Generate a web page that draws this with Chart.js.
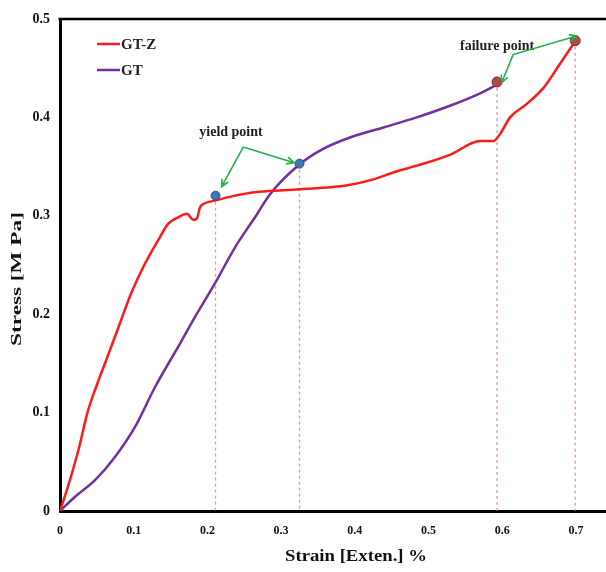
<!DOCTYPE html>
<html>
<head>
<meta charset="utf-8">
<script src="https://cdn.jsdelivr.net/npm/chart.js@4.4.1/dist/chart.umd.min.js"></script>
<style>
  body { margin: 0; background: #fff; }
  #wrap { width: 606px; height: 572px; }
</style>
</head>
<body>
<div id="wrap"><canvas id="stressStrainChart" width="606" height="572"></canvas></div>
<script>
// GT-Z curve (red)
const gtzStrain = [0, 0.0113, 0.025, 0.038, 0.0475, 0.063, 0.079, 0.097, 0.115, 0.133, 0.147, 0.1605, 0.172, 0.181, 0.1855, 0.19, 0.1945, 0.21, 0.2375, 0.2646, 0.303, 0.348, 0.39, 0.425, 0.452, 0.484, 0.529, 0.57, 0.588, 0.597, 0.6106, 0.633, 0.656, 0.678, 0.6995];
const gtzStress = [0, 0.026, 0.062, 0.102, 0.123, 0.154, 0.186, 0.222, 0.251, 0.275, 0.292, 0.2985, 0.302, 0.296, 0.297, 0.3086, 0.312, 0.3154, 0.3205, 0.324, 0.326, 0.328, 0.331, 0.337, 0.344, 0.351, 0.362, 0.376, 0.376, 0.383, 0.400, 0.4135, 0.430, 0.454, 0.478];

// GT curve (purple)
const gtStrain = [0, 0.0204, 0.0475, 0.0746, 0.1018, 0.129, 0.165, 0.183, 0.21, 0.2375, 0.2646, 0.285, 0.3256, 0.357, 0.3935, 0.4387, 0.484, 0.529, 0.57, 0.592];
const gtStress = [0, 0.0145, 0.0314, 0.055, 0.0855, 0.126, 0.173, 0.197, 0.231, 0.268, 0.2985, 0.322, 0.3526, 0.368, 0.3796, 0.3897, 0.400, 0.4118, 0.4245, 0.433];

// marked points
const yieldStrain = [0.211, 0.325];
const yieldStress = [0.3205, 0.353];
const failureStrain = [0.593, 0.699];
const failureStress = [0.436, 0.478];

// tick labels
const xTicks = [0, 0.1, 0.2, 0.3, 0.4, 0.5, 0.6, 0.7];
const yTicks = [0, 0.1, 0.2, 0.3, 0.4, 0.5];

// legend entries
const seriesNames = ['GT-Z', 'GT'];
const seriesColors = ['#ff1a1a', '#7030a0'];

// annotation labels and arrows (data units)
const yieldLabel = { text: 'yield point', x: 0.232, y: 0.3847 };
const yieldArrowApex = { x: 0.2487, y: 0.370 };
const failureLabel = { text: 'failure point', x: 0.593, y: 0.4726 };
const failureArrowApex = { x: 0.615, y: 0.464 };
const yieldArrowTips = [{ x: 0.2194, y: 0.3296 }, { x: 0.3175, y: 0.354 }];
const failureArrowTips = [{ x: 0.5993, y: 0.4354 }, { x: 0.701, y: 0.4828 }];

function toPoints(xs, ys) {
    return xs.map((x, i) => ({ x: x, y: ys[i] }));
}

function dropLine(x, y) {
    return {
        data: [{ x: x, y: y }, { x: x, y: 0 }],
        showLine: true,
        borderColor: 'rgba(214, 130, 130, 0.8)',
        borderWidth: 1.3,
        borderDash: [3, 3],
        pointRadius: 0,
        order: 5
    };
}

/**
 * Draw the extras: top frame line, legend, axis titles, notes and arrows
 */
const extrasPlugin = {
    id: 'extras',
    afterDraw(chart) {
        const ctx = chart.ctx;
        const area = chart.chartArea;
        const xs = chart.scales.x;
        const ys = chart.scales.y;
        ctx.save();

        // top frame line
        ctx.strokeStyle = '#000';
        ctx.lineWidth = 2.5;
        ctx.beginPath();
        ctx.moveTo(area.left - 1.5, area.top);
        ctx.lineTo(area.right, area.top);
        ctx.stroke();

        // legend
        ctx.font = 'bold 15px "Liberation Serif"';
        ctx.textBaseline = 'middle';
        ctx.textAlign = 'left';
        seriesNames.forEach((name, i) => {
            const ly = 44 + i * 26;
            ctx.strokeStyle = seriesColors[i];
            ctx.lineWidth = 2.5;
            ctx.beginPath();
            ctx.moveTo(97, ly);
            ctx.lineTo(120, ly);
            ctx.stroke();
            ctx.fillStyle = '#222';
            ctx.fillText(name, 121, ly + 1);
        });

        // axis titles (stretched like the original)
        ctx.fillStyle = '#111';
        ctx.textAlign = 'center';
        ctx.font = 'bold 16px "Liberation Serif"';
        ctx.save();
        ctx.translate(356, 557);
        ctx.scale(1.17, 1);
        ctx.fillText('Strain [Exten.] %', 0, 0);
        ctx.restore();

        ctx.save();
        ctx.translate(17, (area.top + area.bottom) / 2 + 14);
        ctx.rotate(-Math.PI / 2);
        ctx.scale(1.55, 1);
        ctx.font = 'bold 15px "Liberation Serif"';
        ctx.fillText('Stress [M Pa]', 0, 0);
        ctx.restore();

        // notes
        ctx.font = 'bold 14px "Liberation Serif"';
        ctx.fillStyle = '#222';
        [yieldLabel, failureLabel].forEach(l => {
            ctx.fillText(l.text, xs.getPixelForValue(l.x), ys.getPixelForValue(l.y));
        });

        // arrows
        ctx.strokeStyle = '#22b14c';
        ctx.lineWidth = 1.6;
        const drawArrows = (apex, tips) => {
            const ax = xs.getPixelForValue(apex.x);
            const ay = ys.getPixelForValue(apex.y);
            tips.forEach(t => {
                const tx = xs.getPixelForValue(t.x);
                const ty = ys.getPixelForValue(t.y);
                const ang = Math.atan2(ty - ay, tx - ax);
                ctx.beginPath();
                ctx.moveTo(ax, ay);
                ctx.lineTo(tx, ty);
                ctx.moveTo(tx - 8 * Math.cos(ang - 0.45), ty - 8 * Math.sin(ang - 0.45));
                ctx.lineTo(tx, ty);
                ctx.lineTo(tx - 8 * Math.cos(ang + 0.45), ty - 8 * Math.sin(ang + 0.45));
                ctx.stroke();
            });
        };
        drawArrows(yieldArrowApex, yieldArrowTips);
        drawArrows(failureArrowApex, failureArrowTips);

        ctx.restore();
    }
};

const datasets = [
    {
        label: seriesNames[0],
        data: toPoints(gtzStrain, gtzStress),
        showLine: true,
        borderColor: seriesColors[0],
        borderWidth: 2.5,
        pointRadius: 0,
        cubicInterpolationMode: 'monotone',
        order: 2
    },
    {
        label: seriesNames[1],
        data: toPoints(gtStrain, gtStress),
        showLine: true,
        borderColor: seriesColors[1],
        borderWidth: 2.5,
        pointRadius: 0,
        cubicInterpolationMode: 'monotone',
        order: 2
    },
    {
        label: 'yield',
        data: toPoints(yieldStrain, yieldStress),
        showLine: false,
        pointRadius: 4.5,
        backgroundColor: '#4472b8',
        borderColor: '#2f4f80',
        borderWidth: 1,
        order: 0
    },
    {
        label: 'failure',
        data: toPoints(failureStrain, failureStress),
        showLine: false,
        pointRadius: 5,
        backgroundColor: '#b04848',
        borderColor: '#7a2a2a',
        borderWidth: 1,
        order: 0
    }
];
yieldStrain.forEach((x, i) => datasets.push(dropLine(x, yieldStress[i])));
failureStrain.forEach((x, i) => datasets.push(dropLine(x, failureStress[i])));

const ctx = document.getElementById('stressStrainChart').getContext('2d');
const stressStrainChart = new Chart(ctx, {
    type: 'scatter',
    data: { datasets: datasets },
    options: {
        responsive: false,
        animation: false,
        layout: { autoPadding: false, padding: { top: 19, left: 0, right: 0, bottom: 0 } },
        plugins: {
            legend: { display: false },
            tooltip: { enabled: false }
        },
        scales: {
            x: {
                type: 'linear',
                min: 0,
                max: 0.7408,
                afterBuildTicks: function(scale) {
                    scale.ticks = xTicks.map(v => ({ value: v }));
                },
                afterFit: function(scale) {
                    scale.height = 61;
                    scale.paddingLeft = 0;
                    scale.paddingRight = 0;
                },
                grid: { display: false, drawTicks: false },
                border: { display: true, color: '#000', width: 3 },
                ticks: {
                    color: '#111',
                    padding: 13,
                    maxRotation: 0,
                    font: { family: 'Liberation Serif', size: 12, weight: 'bold' }
                }
            },
            y: {
                type: 'linear',
                min: 0,
                max: 0.5,
                afterBuildTicks: function(scale) {
                    scale.ticks = yTicks.map(v => ({ value: v }));
                },
                afterFit: function(scale) {
                    scale.width = 60;
                    scale.paddingTop = 0;
                    scale.paddingBottom = 0;
                },
                grid: { display: false, drawTicks: false },
                border: { display: true, color: '#000', width: 3 },
                ticks: {
                    color: '#111',
                    padding: 10,
                    font: { family: 'Liberation Serif', size: 14, weight: 'bold' }
                }
            }
        }
    },
    plugins: [extrasPlugin]
});
</script>
</body>
</html>
